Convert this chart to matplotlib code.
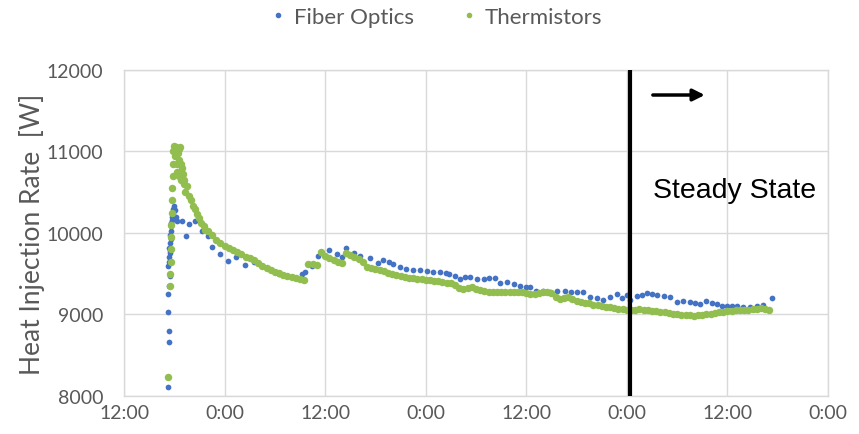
import numpy as np
import matplotlib
matplotlib.use("Agg")
import matplotlib.pyplot as plt
from matplotlib.lines import Line2D

# ---------------- data (hours after the first 12:00 tick) ----------------
fiber_t = [5.2, 5.35, 5.35, 5.2, 5.3, 5.4, 5.45, 5.3, 5.4, 5.35, 5.45, 5.5, 5.4, 5.5,
           5.55, 5.5, 5.6, 5.65, 5.6, 5.7, 5.75, 5.8, 5.85, 5.9, 6.0, 6.1, 6.2, 6.3,
           6.9, 7.4, 7.7, 8.5, 9.3, 10.0, 10.5, 11.5, 12.4, 13.4, 14.4, 15.5, 16.5,
           17.5, 18.5, 19.5, 20.5, 21.2, 21.6, 22.4, 23.2,
           24.4, 25.4, 26.0, 26.5, 27.4, 28.2, 29.4, 30.3, 30.9, 31.6, 32.1, 32.9,
           33.7, 34.5, 35.3, 36.1, 36.9, 37.7, 38.4, 38.8, 39.5, 40.1, 40.7, 41.3,
           42.1, 42.9, 43.6, 44.3, 44.9, 45.7, 46.5, 47.3, 48.0, 48.4, 49.2, 50.0,
           50.8, 51.7, 52.6, 53.3, 54.0, 54.8, 55.6, 56.4, 57.2, 58.0, 58.8, 59.4,
           60.0, 60.4, 61.2, 61.8, 62.4, 63.0, 63.6, 64.4, 65.2, 66.0, 66.7, 67.5,
           68.1, 68.7, 69.5, 70.1, 70.7, 71.3, 71.9, 72.5, 73.1, 73.9, 74.7, 75.5,
           76.3, 77.3]
fiber_v = [8107, 8658, 8800, 9027, 9252, 9353, 9476, 9600, 9650, 9700, 9780, 9750, 9820, 9880,
           9926, 9980, 10020, 10080, 10120, 10160, 10200, 10250, 10212, 10300, 10335, 10280, 10200, 10150,
           10151, 9967, 10110, 10150, 10030, 9960, 9825, 9742, 9660, 9700, 9607, 9650, 9595,
           9540, 9500, 9470, 9445, 9497, 9518, 9600, 9720,
           9790, 9742, 9700, 9810, 9760, 9722, 9690, 9630, 9665, 9640, 9620, 9585,
           9558, 9540, 9546, 9530, 9518, 9520, 9515, 9500, 9470, 9440, 9460, 9456,
           9440, 9436, 9450, 9444, 9383, 9395, 9380, 9354, 9340, 9334, 9293, 9290,
           9280, 9290, 9285, 9275, 9272, 9272, 9211, 9200, 9178, 9220, 9252, 9199,
           9240, 9178, 9230, 9243, 9260, 9250, 9240, 9230, 9211, 9150, 9160, 9158,
           9140, 9129, 9170, 9140, 9129, 9110, 9108, 9105, 9100, 9095, 9088, 9100,
           9117, 9199]

therm_early_t = [5.3, 5.45, 5.5, 5.55, 5.6, 5.6, 5.65, 5.7, 5.7, 5.75, 5.8, 5.85, 5.9,
                 6.0, 6.1, 6.2, 6.3, 6.4, 6.5, 6.6, 6.7, 6.8, 6.9, 7.0, 7.2,
                 6.3, 6.5, 6.8, 7.1, 7.3, 7.7, 8.2, 8.7, 9.2, 9.7]
therm_early_v = [8229, 9353, 9500, 9650, 9800, 9950, 10100, 10250, 10400, 10550, 10700, 10850, 11000,
                 11070, 10950, 11050, 10850, 10980, 11030, 10900, 11050, 10850, 10800, 10720, 10650,
                 10750, 10700, 10650, 10600, 10500, 10450, 10330, 10230, 10120, 10040]

therm_t = np.arange(7.5, 77.01, 0.5)
therm_v = [10580, 10400, 10290, 10190, 10090, 10030, 9970, 9920, 9880, 9845,
           9820, 9790, 9765, 9740, 9710, 9695, 9665, 9630, 9600, 9575,
           9545, 9525, 9505, 9490, 9475, 9462, 9450, 9440, 9425, 9615,
           9620, 9605, 9765, 9720, 9690, 9670, 9645, 9630, 9760, 9725,
           9700, 9675, 9650, 9585, 9570, 9555, 9540, 9530, 9515, 9500,
           9490, 9478, 9460, 9452, 9445, 9440, 9432, 9425, 9418, 9412,
           9410, 9400, 9392, 9385, 9360, 9330, 9313, 9325, 9334, 9310,
           9295, 9285, 9275, 9275, 9280, 9280, 9282, 9278, 9275, 9272,
           9270, 9262, 9255, 9250, 9262, 9270, 9272, 9260, 9220, 9195,
           9205, 9210, 9190, 9170, 9155, 9145, 9135, 9122, 9112, 9105,
           9095, 9088, 9080, 9072, 9066, 9060, 9056, 9060, 9062, 9055,
           9050, 9048, 9042, 9035, 9028, 9020, 9012, 9005, 8998, 8994,
           8990, 8987, 8988, 8995, 9003, 9010, 9018, 9026, 9035, 9043,
           9048, 9052, 9055, 9058, 9060, 9065, 9072, 9075, 9072, 9060]

x_ticks = [0, 12, 24, 36, 48, 60, 72, 84]
x_labels = ["12:00", "0:00", "12:00", "0:00", "12:00", "0:00", "12:00", "0:00"]
y_ticks = [8000, 9000, 10000, 11000, 12000]
steady_start = 60.4
arrow_x = [63.1, 69.3]
arrow_y = 11693

# ---------------- figure ----------------
blue = "#4472C4"
green = "#92BE50"
gray = "#595959"

fig = plt.figure(figsize=(8.59, 4.35), dpi=100)
ax = fig.add_axes([0.1444, 0.0874, 0.8195, 0.7494])

ax.scatter(fiber_t, fiber_v, s=17, color=blue, linewidths=0, zorder=3)
ax.scatter(therm_early_t + list(therm_t), therm_early_v + therm_v, s=29, color=green,
           linewidths=0, zorder=4)

ax.set_xlim(0, 84)
ax.set_ylim(8000, 12000)
ax.set_xticks(x_ticks)
ax.set_xticklabels(x_labels)
ax.set_yticks(y_ticks)
ax.grid(True, color="#D9D9D9", linewidth=1.0)
ax.set_axisbelow(True)
for sp in ax.spines.values():
    sp.set_color("#D9D9D9")
    sp.set_linewidth(1.0)
ax.tick_params(axis="both", length=0, labelcolor=gray, labelsize=14, labelfontfamily="Lato")
ax.tick_params(axis="y", pad=15)
ax.tick_params(axis="x", pad=6)

ax.set_ylabel("Heat Injection Rate  [W]", fontsize=19, color=gray, family="Lato", labelpad=1)

ax.axvline(steady_start, color="black", linewidth=3, zorder=5)
ax.annotate("", xy=(arrow_x[1], arrow_y), xytext=(arrow_x[0], arrow_y),
            arrowprops=dict(arrowstyle="-|>,head_length=0.7,head_width=0.35",
                            color="black", lw=2.5, shrinkA=0, shrinkB=0), zorder=6)
ax.text(63.1, 10442, "Steady State", fontsize=20.5, family="Liberation Sans",
        color="black", va="baseline", ha="left", zorder=6)

handles = [Line2D([], [], marker="o", linestyle="none", color=blue, markersize=3),
           Line2D([], [], marker="o", linestyle="none", color=green, markersize=3)]
leg = fig.legend(handles, ["Fiber Optics", "Thermistors"], loc="center",
                 bbox_to_anchor=(0.506, 0.958), ncol=2, frameon=False,
                 prop={"family": "Lato", "size": 16}, handletextpad=0.2,
                 columnspacing=2.0, handlelength=1.0)
for t in leg.get_texts():
    t.set_color(gray)

fig.savefig("out.png", dpi=100)
